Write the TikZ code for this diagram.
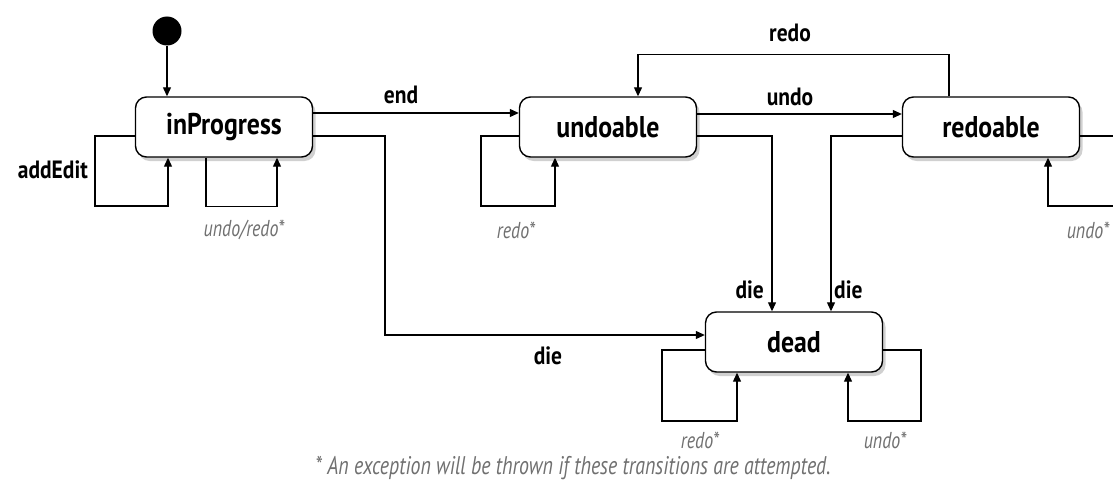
\documentclass[tikz,border=0pt]{standalone}
\usepackage{fontspec}
\setmainfont[FakeStretch=0.86]{PT Sans}
\newfontfamily\condital[FakeStretch=0.78]{PT Sans}
\usetikzlibrary{arrows.meta,shadows}
\definecolor{lblgray}{HTML}{707070}
\begin{document}
\begin{tikzpicture}[x=1pt,y=-1pt,
  statebox/.style={draw=black, line width=1.4pt, rounded corners=11pt, fill=white,
    minimum width=177pt, minimum height=60pt, inner sep=0pt,
    font=\fontsize{30}{32}\selectfont\bfseries,
    drop shadow={shadow xshift=3pt, shadow yshift=-4pt, opacity=0.3, fill=black!60}},
  arr/.style={line width=1.2pt, -{Triangle[length=9pt,width=8pt]}},
  lbl/.style={font=\fontsize{25}{27}\selectfont\bfseries, inner sep=0pt},
  ilbl/.style={font=\condital\fontsize{23}{25}\selectfont\itshape, text=lblgray, inner sep=0pt},
  fnlbl/.style={font=\condital\fontsize{25.5}{27}\selectfont\itshape, text=lblgray, inner sep=0pt}]
\clip (0,0) rectangle (1113,484);
\fill[white] (0,0) rectangle (1113,484);

\node[circle, fill=black, minimum size=29pt, inner sep=0pt] (init) at (167,31) {};
\node[statebox] (ip) at (224,127) {inProgress};
\node[statebox] (ud) at (608,127) {undoable};
\node[statebox] (rd) at (991,127) {redoable};
\node[statebox] (dd) at (794,342) {dead};

\coordinate (dwin) at ([yshift=7pt]dd.west);

% initial
\draw[arr] (init) -- (init |- ip.north);
% inProgress self loops
\draw[arr] ([yshift=-9pt]ip.west) -| (95,206) -| ([xshift=-56pt]ip.south);
\draw[arr] ([xshift=-18pt]ip.south) -- ++(0,49) -| ([xshift=53pt]ip.south);
% end
\draw[arr] ([yshift=14pt]ip.east) -- ([yshift=14pt]ud.west);
% die from inProgress
\draw[arr] ([yshift=-9pt]ip.east) -| (dwin -| 385,0) -- (dwin);
% undoable redo* loop
\draw[arr] ([yshift=-9pt]ud.west) -| (481,206) -| ([xshift=-53pt]ud.south);
% undo
\draw[arr] ([yshift=13pt]ud.east) -- ([yshift=13pt]rd.west);
% redo
\draw[arr] ([xshift=-42pt]rd.north) -- ++(0,-42) -| ([xshift=30pt]ud.north);
% die from undoable / redoable
\draw[arr] ([yshift=-9pt]ud.east) -| ([xshift=-22pt]dd.north);
\draw[arr] ([yshift=-9pt]rd.west) -| ([xshift=37pt]dd.north);
% redoable self loop
\draw[arr] ([yshift=-9pt]rd.east) -| (1130,206) -| ([xshift=57pt]rd.south);
% dead self loops
\draw[arr] ([yshift=-8pt]dd.west) -| (662,421) -| ([xshift=-57pt]dd.south);
\draw[arr] ([yshift=-8pt]dd.east) -| (921,421) -| ([xshift=54pt]dd.south);

% labels
\node[lbl, anchor=east] (l1) at (88,170) {addEdit};
\node[lbl] (l2) at (401,95) {end};
\node[lbl] (l3) at (790,97) {undo};
\node[lbl] (l4) at (790,33) {redo};
\node[lbl, anchor=east] (l5) at (764,290) {die};
\node[lbl, anchor=west] (l6) at (834,290) {die};
\node[lbl] (l7) at (548,356) {die};
\node[ilbl] (i1) at (244,230) {undo/redo*};
\node[ilbl] (i2) at (516,230) {redo*};
\node[ilbl] (i3) at (1088,230) {undo*};
\node[ilbl] (i4) at (700,440) {redo*};
\node[ilbl] (i5) at (885,440) {undo*};
\node[fnlbl] (fn) at (573,468) {* An exception will be thrown if these transitions are attempted.};
\end{tikzpicture}
\end{document}
